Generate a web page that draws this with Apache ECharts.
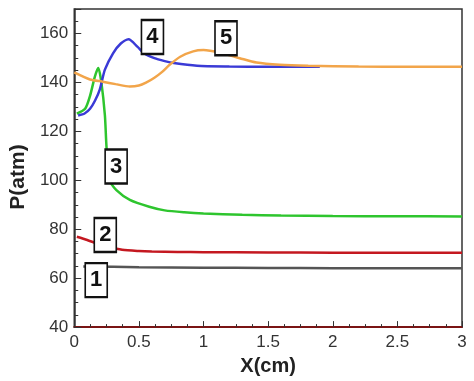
<!DOCTYPE html>
<html><head><meta charset="utf-8">
<script src="https://cdn.jsdelivr.net/npm/echarts@6/dist/echarts.min.js"></script>
<style>html,body{margin:0;padding:0;background:#fff}#c{width:474px;height:381px}</style>
</head><body><div id="c"></div>
<script>
const xTicks = [0, 0.5, 1, 1.5, 2, 2.5, 3];
const yTicks = [40, 60, 80, 100, 120, 140, 160];

const x1 = [0.07, 0.5, 1, 1.5, 2, 2.5, 3];
const y1 = [64.8, 64.5, 64.3, 64.2, 64.1, 64.0, 64.0];

const x2 = [0.02, 0.1, 0.18, 0.27, 0.37, 0.5, 0.6, 0.8, 1.0, 1.5, 2, 2.5, 3];
const y2 = [76.9, 75.6, 74.1, 72.7, 71.6, 71.1, 70.9, 70.7, 70.6, 70.5, 70.4, 70.4, 70.4];

const x3 = [0.02, 0.084, 0.122, 0.16, 0.186, 0.21, 0.237, 0.25, 0.275, 0.326, 0.43, 0.58, 0.7, 0.85, 1.0, 1.3, 1.6, 2.0, 2.5, 3.0];
const y3 = [127.2, 129.2, 134.5, 142.5, 145.9, 139.9, 126.5, 113.2, 100, 96, 92, 89.2, 87.7, 86.9, 86.4, 85.9, 85.6, 85.4, 85.3, 85.2];

const x4 = [0.03, 0.08, 0.122, 0.16, 0.198, 0.237, 0.3, 0.36, 0.42, 0.49, 0.54, 0.62, 0.7, 0.77, 0.95, 1.2, 1.5, 1.9];
const y4 = [126.5, 127.3, 129.2, 132.5, 137.2, 145.2, 151.9, 155.9, 157.6, 154.5, 151.9, 149.9, 148.7, 147.9, 146.8, 146.5, 146.4, 146.4];

const x5 = [0, 0.122, 0.22, 0.32, 0.43, 0.5, 0.555, 0.62, 0.68, 0.74, 0.82, 0.92, 1.0, 1.13, 1.28, 1.41, 1.59, 1.81, 2.2, 2.6, 3.0];
const y5 = [144.1, 141.2, 140.3, 139.3, 138.3, 138.7, 139.9, 141.9, 144.3, 147.3, 150.5, 152.7, 153.2, 152.1, 149.9, 148.1, 147.2, 146.8, 146.5, 146.4, 146.4];

const labelText = ['1', '2', '3', '4', '5'];
const labelX = [0.17, 0.24, 0.324, 0.605, 1.174];
const labelY = [59.2, 77.6, 105.6, 158.6, 158.0];

const zip = (xs, ys) => xs.map((x, i) => [x, ys[i]]);
const line = (xs, ys, color) => ({
  type: 'line', data: zip(xs, ys), showSymbol: false, smooth: 0.25,
  lineStyle: { color: color, width: 2.5 }, z: 3
});

const chart = echarts.init(document.getElementById('c'));
chart.setOption({
  animation: false,
  backgroundColor: '#fff',
  grid: { left: 69, right: 12, top: 9, bottom: 48, show: true, borderColor: '#333', borderWidth: 1.5, backgroundColor: 'transparent' },
  xAxis: {
    type: 'value', min: 0, max: 3, interval: 0.5,
    name: 'X(cm)', nameLocation: 'middle', nameGap: 25,
    nameTextStyle: { fontFamily: 'Liberation Sans', fontWeight: 'bold', fontSize: 20, color: '#222' },
    axisLine: { lineStyle: { color: '#7a1414', width: 2 } },
    axisTick: { inside: true, length: 6, lineStyle: { color: '#333' } },
    minorTick: { show: true, splitNumber: 4, length: 3, lineStyle: { color: '#333' } },
    splitLine: { show: false },
    axisLabel: { fontFamily: 'Liberation Sans', fontSize: 17, color: '#333', margin: 7,
      formatter: v => xTicks.includes(v) ? String(v) : '' }
  },
  yAxis: {
    type: 'value', min: 40, max: 170, interval: 20,
    name: 'P(atm)', nameLocation: 'middle', nameGap: 37, nameRotate: 90,
    nameTextStyle: { fontFamily: 'Liberation Sans', fontWeight: 'bold', fontSize: 21, color: '#222', padding: [0, 18, 0, 0] },
    axisLine: { lineStyle: { color: '#333', width: 1.5 } },
    axisTick: { inside: true, length: 7, lineStyle: { color: '#333' } },
    minorTick: { show: true, splitNumber: 4, length: 4, lineStyle: { color: '#333' } },
    splitLine: { show: false },
    axisLabel: { fontFamily: 'Liberation Sans', fontSize: 17, color: '#333', margin: 6, showMaxLabel: false,
      formatter: v => yTicks.includes(v) ? String(v) : '' }
  },
  series: [
    line(x1, y1, '#555555'),
    line(x2, y2, '#c41820'),
    line(x3, y3, '#2ec52e'),
    line(x4, y4, '#3a3ad6'),
    line(x5, y5, '#f2a54a'),
    {
      type: 'scatter', z: 10,
      data: labelX.map((x, i) => [x, labelY[i], labelText[i]]),
      symbol: 'rect', symbolSize: [22, 34],
      itemStyle: { color: '#fff', borderColor: '#111', borderWidth: 2, opacity: 1 },
      label: { show: true, position: 'inside', formatter: p => p.data[2],
        fontFamily: 'Liberation Sans', fontWeight: 'bold', fontSize: 22, color: '#111' }
    }
  ]
});
</script></body></html>
